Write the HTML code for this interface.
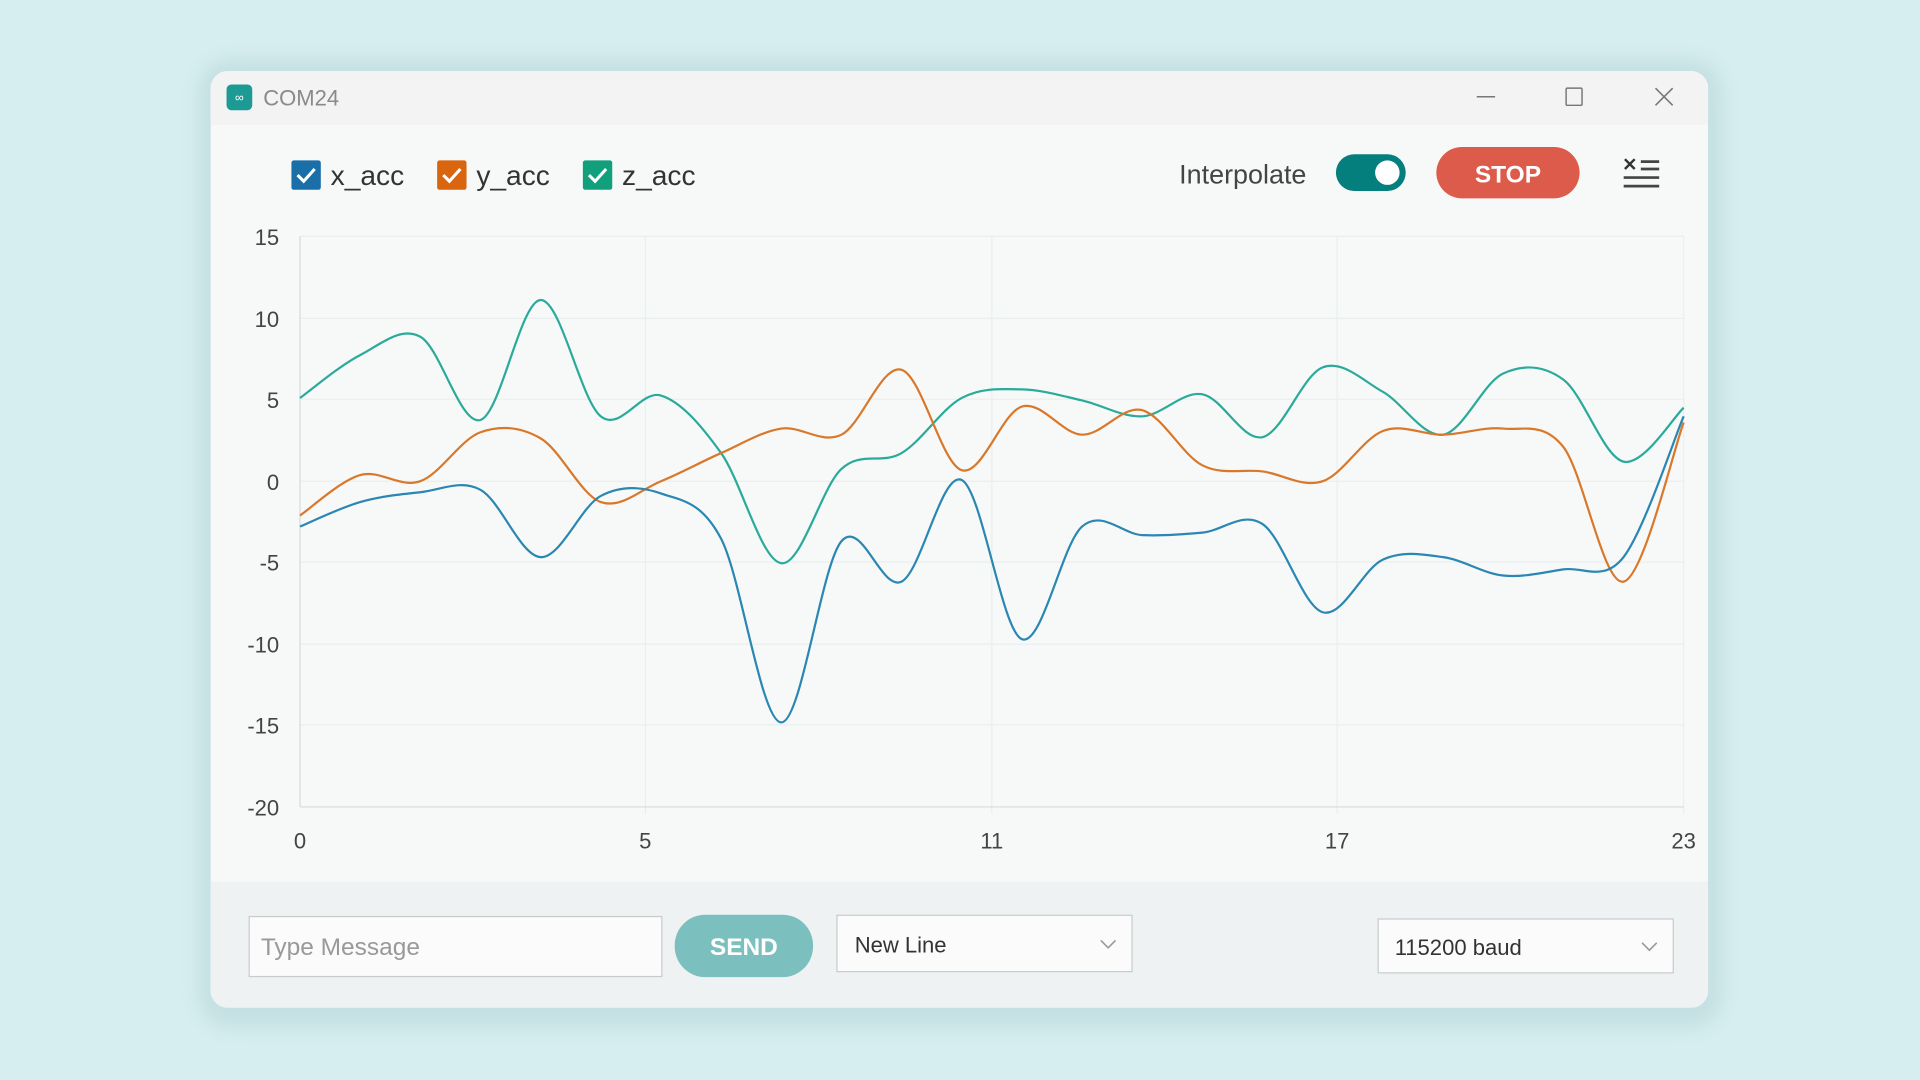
<!DOCTYPE html>
<html><head><meta charset="utf-8"><style>
html,body{margin:0;padding:0;background:#d6eef0;overflow:hidden}
svg{display:block}
text{font-family:"Liberation Sans",sans-serif}
</style></head><body>
<svg width="1920" height="1080" viewBox="0 0 1568 882" xmlns="http://www.w3.org/2000/svg">
<defs>
<filter id="sh" x="-10%" y="-10%" width="120%" height="120%"><feGaussianBlur stdDeviation="8"/></filter>
<clipPath id="win"><rect x="172" y="58" width="1223" height="765" rx="14"/></clipPath>
</defs>
<rect width="1568" height="882" fill="#d6eef0"/>
<rect x="162" y="48" width="1245" height="792" rx="26" fill="#c5e0e2" filter="url(#sh)"/>
<g clip-path="url(#win)">
<rect x="172" y="58" width="1223" height="765" fill="#f7f9f8"/>
<rect x="172" y="58" width="1223" height="44" fill="#f3f3f3"/>
<rect x="172" y="720" width="1223" height="103" fill="#eef2f3"/>
</g>
<!-- title -->
<rect x="185" y="69" width="21" height="21" rx="4" fill="#1d9a94"/>
<text x="195.5" y="83" font-size="10" fill="#fff" text-anchor="middle">∞</text>
<text x="215" y="86" font-size="18" fill="#8a8a8a">COM24</text>
<line x1="1206" y1="79" x2="1221" y2="79" stroke="#777" stroke-width="1.2"/>
<rect x="1279" y="72" width="13" height="14" fill="none" stroke="#777" stroke-width="1.2" rx="1"/>
<path d="M1352 72 L1366 86 M1366 72 L1352 86" stroke="#777" stroke-width="1.3"/>
<!-- legend -->
<rect x="238" y="131" width="24" height="24" rx="2" fill="#1a6fa8"/>
<path d="M243 143 l5 5 l9 -10" stroke="#fff" stroke-width="2.5" fill="none"/>
<text x="270" y="151" font-size="23" fill="#333">x_acc</text>
<rect x="357" y="131" width="24" height="24" rx="2" fill="#d9650f"/>
<path d="M362 143 l5 5 l9 -10" stroke="#fff" stroke-width="2.5" fill="none"/>
<text x="389" y="151" font-size="23" fill="#333">y_acc</text>
<rect x="476" y="131" width="24" height="24" rx="2" fill="#12a07c"/>
<path d="M481 143 l5 5 l9 -10" stroke="#fff" stroke-width="2.5" fill="none"/>
<text x="508" y="151" font-size="23" fill="#333">z_acc</text>
<text x="963" y="150" font-size="22" fill="#444">Interpolate</text>
<rect x="1091" y="126" width="57" height="30" rx="15" fill="#057e7e"/>
<circle cx="1133" cy="141" r="10" fill="#fff"/>
<rect x="1173" y="120" width="117" height="42" rx="21" fill="#dc5b4b"/>
<text x="1231.5" y="149" font-size="20" font-weight="bold" fill="#fff" text-anchor="middle">STOP</text>
<path d="M1327 130 l8 8 M1335 130 l-8 8" stroke="#333" stroke-width="2"/>
<path d="M1340 132 h15 M1340 138 h15 M1326 145 h29 M1326 152 h29" stroke="#444" stroke-width="2.2"/>
<!-- grid -->
<g stroke="#e9eeee" stroke-width="1">
<line x1="245" y1="193" x2="1375" y2="193"/><line x1="245" y1="260" x2="1375" y2="260"/>
<line x1="245" y1="326" x2="1375" y2="326"/><line x1="245" y1="393" x2="1375" y2="393"/>
<line x1="245" y1="459" x2="1375" y2="459"/><line x1="245" y1="526" x2="1375" y2="526"/>
<line x1="245" y1="592" x2="1375" y2="592"/>
<line x1="527" y1="193" x2="527" y2="665"/><line x1="810" y1="193" x2="810" y2="665"/>
<line x1="1092" y1="193" x2="1092" y2="665"/><line x1="1375" y1="193" x2="1375" y2="665"/>
</g>
<line x1="245" y1="193" x2="245" y2="659" stroke="#d5dada"/>
<line x1="245" y1="659" x2="1375" y2="659" stroke="#d5dada"/>
<g font-size="18" fill="#444" text-anchor="end">
<text x="228" y="200">15</text><text x="228" y="267">10</text><text x="228" y="333">5</text>
<text x="228" y="400">0</text><text x="228" y="466">-5</text><text x="228" y="533">-10</text>
<text x="228" y="599">-15</text><text x="228" y="666">-20</text>
</g>
<g font-size="18" fill="#444" text-anchor="middle">
<text x="245" y="693">0</text><text x="527" y="693">5</text><text x="810" y="693">11</text>
<text x="1092" y="693">17</text><text x="1375" y="693">23</text>
</g>
<path id="pz" fill="none" stroke="#2aaa9a" stroke-width="1.8"/>
<path id="py" fill="none" stroke="#d9782a" stroke-width="1.8"/>
<path id="px" fill="none" stroke="#2a86b3" stroke-width="1.8"/>
<!-- footer -->
<rect x="203.5" y="748.5" width="337" height="49" fill="#fafbfa" stroke="#c8cccc"/>
<text x="213" y="780" font-size="20" fill="#999">Type Message</text>
<rect x="551" y="747" width="113" height="51" rx="25" fill="#7bbfbf"/>
<text x="607.5" y="780" font-size="20" font-weight="bold" fill="#fff" text-anchor="middle">SEND</text>
<rect x="683.5" y="747.5" width="241" height="46" fill="#fafbfa" stroke="#c8cccc"/>
<text x="698" y="778" font-size="18" fill="#333">New Line</text>
<path d="M899 768 l6 6 l6 -6" stroke="#999" fill="none" stroke-width="1.3"/>
<rect x="1125.5" y="750.5" width="241" height="44" fill="#fafbfa" stroke="#c8cccc"/>
<text x="1139" y="780" font-size="18" fill="#333">115200 baud</text>
<path d="M1341 770 l6 6 l6 -6" stroke="#999" fill="none" stroke-width="1.3"/>
</svg>
<script>
function xs(i){return 245+49.13*i;}
var Z=[325,290,275,343,245,340,323,370,460,383,370,325,318,327,340,322,357,300,320,355,305,310,377,333];
var Y=[421,388,393,353,358,410,393,370,350,355,302,384,332,355,335,380,385,393,352,355,350,365,475,345];
var X=[430,410,402,400,455,405,403,440,590,442,475,392,522,430,437,435,428,500,457,455,470,465,455,340];
function path(a){var p=[];for(var i=0;i<a.length;i++)p.push([xs(i),a[i]]);
var d="M"+p[0][0]+" "+p[0][1];
for(var i=0;i<p.length-1;i++){var p0=p[i-1]||p[i],p1=p[i],p2=p[i+1],p3=p[i+2]||p2;
var t=0.5/3;d+=" C"+(p1[0]+(p2[0]-p0[0])*t)+" "+(p1[1]+(p2[1]-p0[1])*t)+" "+(p2[0]-(p3[0]-p1[0])*t)+" "+(p2[1]-(p3[1]-p1[1])*t)+" "+p2[0]+" "+p2[1];}
return d;}
document.getElementById("pz").setAttribute("d",path(Z));
document.getElementById("py").setAttribute("d",path(Y));
document.getElementById("px").setAttribute("d",path(X));
</script>
</body></html>
